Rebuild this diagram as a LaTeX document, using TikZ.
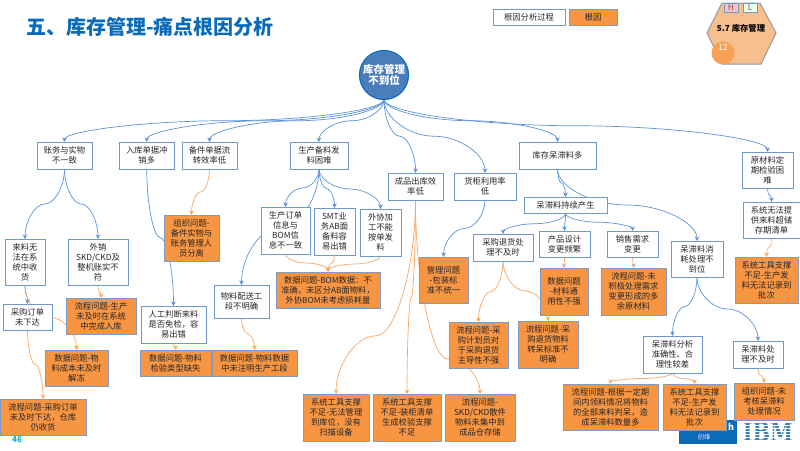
\documentclass[tikz,border=0pt]{standalone}
\usepackage{fontspec}
\setmainfont{Noto Sans CJK SC}
\newfontfamily\ibmfont{DejaVu Serif}
\usetikzlibrary{positioning,arrows.meta,calc,backgrounds}

\definecolor{linkblue}{HTML}{5B93D8}
\definecolor{linkorange}{HTML}{F9A662}
\definecolor{causefill}{HTML}{F79542}
\definecolor{causeline}{HTML}{7F9BC2}
\definecolor{boxline}{HTML}{7099CC}
\definecolor{titleblue}{HTML}{0B6BB8}
\definecolor{hexfill}{HTML}{F6BF8E}
\definecolor{rootfill}{HTML}{4A7EBB}
\definecolor{rootline}{HTML}{0F6FBF}
\definecolor{ibmblue}{HTML}{3F7FB0}
\definecolor{pagecyan}{HTML}{00B0F0}

\begin{document}
\begin{tikzpicture}[x=1pt, y=-1pt, >={Stealth[length=4.5pt,width=4.5pt]},
    every node/.style={font=\fontsize{8.3}{10}\selectfont, text=black!85, inner sep=0pt, outer sep=0pt}]
  % Styles
  \tikzset{
    dims/.style 2 args={minimum width=#1pt, minimum height=#2pt},
    proc/.style={draw=boxline, line width=.8pt, fill=white, align=center},
    cause/.style={draw=causeline, line width=.9pt, fill=causefill, align=center},
    elbow/.style={to path={
      let \p1=(\tikztostart), \p2=(\tikztotarget) in
      .. controls (\x1,{\y1+.5*#1*(\y2-\y1)}) and ({.75*\x1+.25*\x2},{\y1+#1*(\y2-\y1)})
      .. ({.5*\x1+.5*\x2},{\y1+#1*(\y2-\y1)})
      .. controls ({.25*\x1+.75*\x2},{\y1+#1*(\y2-\y1)}) and (\x2,{\y2-.5*(1-#1)*(\y2-\y1)})
      .. (\x2,\y2)}},
    elbow/.default=.5,
    bluelink/.style={->, draw=linkblue, line width=.7pt},
    orangelink/.style={->, draw=linkorange, line width=.7pt}
  }
  \useasboundingbox (0,0) rectangle (800,450);

  % Title, legend, page number
  \node[anchor=west, font=\fontsize{20}{24}\selectfont\bfseries, text=titleblue] (title) at (26,27) {五、库存管理-痛点根因分析};
  \node[proc, dims={72}{16.5}, anchor=north west] (legendproc) at (493,9) {根因分析过程};
  \node[cause, dims={48}{16.5}, right=4pt of legendproc] (legendcause) {根因};

  % Hexagon badge
  \draw[draw=gray!80, line width=1pt, fill=hexfill] (722,3) -- (760,3) -- (776,33) -- (761,64) -- (722,64) -- (707,33) -- cycle;
  \node[draw=boxline, line width=.8pt, fill=red!25, dims={14}{9}, text=black!60, anchor=north west] (tagh) at (724,3) {H};
  \node[draw=boxline, line width=.8pt, fill=green!8, dims={14}{9}, text=black!60, anchor=north west] (tagl) at (743,3) {L};
  \node[font=\fontsize{8.3}{10}\selectfont\bfseries, text=black] (hextext) at (741,28) {5.7 库存管理};
  \node[circle, fill=causefill!90!white, minimum size=23pt] (hexcirc) at (723,53) {};
  \node[text=white] (hexnum) at (723,47) {12};

  % Root
  \node[circle, draw=rootline, line width=1.2pt, fill=rootfill, minimum size=49pt, align=center,
        text=white, font=\fontsize{10.5}{11}\selectfont\bfseries] (root) at (384,75) {库存管理\\不到位};

  % First row
  \node[proc, dims={55}{27}, anchor=north west] (zw) at (37,142) {账务与实物\\不一致};
  \node[proc, dims={55.5}{27}, right=27pt of zw] (rk) {入库单据冲\\销多};
  \node[proc, dims={55}{27}, right=7.5pt of rk] (bj) {备件单据流\\转效率低};
  \node[proc, dims={58}{27}, right=53pt of bj] (sc) {生产备料发\\料困难};
  \node[proc, dims={77}{27}, right=171pt of sc] (kc) {库存呆滞料多};
  \node[proc, dims={51}{36}, anchor=north west] (yc) at (742,152) {原材料定\\期检验困\\难};
  \node[proc, dims={55}{27}, anchor=north west] (cp) at (388,173) {成品出库效\\率低};
  \node[proc, dims={62}{27}, right=11pt of cp] (hg) {货柜利用率\\低};

  % Left branch
  \node[proc, dims={40}{46}, anchor=north west] (ll) at (5,239) {来料无\\法在系\\统中收\\货};
  \node[proc, dims={60}{46}, anchor=north west] (wx) at (68,239) {外销\\SKD/CKD及\\整机账实不\\符};
  \node[proc, dims={49}{26}, anchor=north west] (cg) at (3,304) {采购订单\\未下达};
  \node[cause, dims={70}{36}, anchor=north west] (lcsc) at (66,298) {流程问题-生产\\未及时在系统\\中完成入库};
  \node[cause, dims={63}{36}, anchor=north west] (sjcb) at (45,350) {数据问题-物\\料成本未及时\\解冻};
  \node[cause, dims={86}{36.5}, anchor=north west] (lccg) at (0,399) {流程问题-采购订单\\未及时下达，仓库\\仍收货};
  \node[cause, dims={55}{46}, anchor=north west] (zz) at (164,215) {组织问题-\\备件实物与\\账务管理人\\员分离};
  \node[proc, dims={65}{37}, anchor=north west] (rg) at (141,306) {人工判断来料\\是否免检，容\\易出错};
  \node[cause, dims={71}{26}, anchor=north west] (sjjy) at (140,350) {数据问题-物料\\检验类型缺失};
  \node[cause, dims={85}{26}, right=1pt of sjjy] (sjgd) {数据问题-物料数据\\中未注明生产工段};
  \node[proc, dims={55}{33}, anchor=north west] (ps) at (214,285) {物料配送工\\段不明确};

  % Production branch
  \node[proc, dims={49}{47}, anchor=north west] (scdd) at (261,207) {生产订单\\信息与\\BOM信\\息不一致};
  \node[proc, dims={41}{47}, anchor=north west] (smt) at (314,208) {SMT业\\务AB面\\备料容\\易出错};
  \node[proc, dims={41}{47}, anchor=north west] (wxjg) at (360,209) {外协加\\工不能\\按单发\\料};
  \node[cause, dims={104}{36}, anchor=north west] (sjbom) at (276,272) {数据问题-BOM数据：不\\准确，未区分AB面物料，\\外协BOM未考虑损耗量};

  % Bottom row
  \node[cause, dims={66}{47}, anchor=north west] (gj1) at (303,394) {系统工具支撑\\不足-无法管理\\到库位，没有\\扫描设备};
  \node[cause, dims={68}{47}, right=4pt of gj1] (gj2) {系统工具支撑\\不足-装柜清单\\生成校验支撑\\不足};
  \node[cause, dims={70}{47}, right=4pt of gj2] (skd) {流程问题-\\SKD/CKD散件\\物料未集中到\\成品仓存储};
  \node[cause, dims={49}{46}, anchor=north west] (gl) at (419,257) {管理问题\\-包装标\\准不统一};

  % Slow-moving stock branch
  \node[proc, dims={83}{16.5}, anchor=north west] (dz) at (524,197) {呆滞料持续产生};
  \node[proc, dims={60}{27}, anchor=north west] (th) at (473,234) {采购退货处\\理不及时};
  \node[proc, dims={51}{26}, anchor=north west] (cpsj) at (539,231) {产品设计\\变更频繁};
  \node[proc, dims={51}{26}, right=17pt of cpsj] (xs) {销售需求\\变更};
  \node[proc, dims={52}{36}, anchor=north west] (xh) at (671,241) {呆滞料消\\耗处理不\\到位};
  \node[cause, dims={48}{47}, anchor=north west] (sjcl) at (540,268) {数据问题\\-材料通\\用性不强};
  \node[cause, dims={65}{47}, anchor=north west] (lcxq) at (601,268) {流程问题-未\\积极处理需求\\变更形成的多\\余原材料};
  \node[cause, dims={59}{46}, anchor=north west] (lcjh) at (449,322) {流程问题-采\\购计划员对\\于采购退货\\主导性不强};
  \node[cause, dims={60}{47}, anchor=north west] (lcth) at (518,321) {流程问题-采\\购退货物料\\转呆标准不\\明确};
  \node[proc, dims={59}{37}, anchor=north west] (fx) at (643,336) {呆滞料分析\\准确性、合\\理性较差};
  \node[proc, dims={50}{27}, anchor=north west] (cl) at (733,341) {呆滞料处\\理不及时};
  \node[cause, dims={95}{46}, anchor=north west] (lcgj) at (563,384) {流程问题-根据一定期\\间内领料情况将物料\\的全部来料判呆，造\\成呆滞料数量多};
  \node[cause, dims={63}{46}, right=5pt of lcgj] (gjfl) {系统工具支撑\\不足-生产发\\料无法记录到\\批次};
  \node[cause, dims={60}{37}, anchor=north west] (zzkh) at (734,383) {组织问题-未\\考核呆滞料\\处理情况};

  % Raw material branch
  \node[proc, dims={57}{36}, anchor=north west] (xtcc) at (743,202) {系统无法提\\供来料超储\\存期清单};
  \node[cause, dims={63}{46}, anchor=north west] (gjpc) at (735,257) {系统工具支撑\\不足-生产发\\料无法记录到\\批次};

  \node[font=\fontsize{8}{10}\selectfont\bfseries, text=pagecyan] (pageno) at (17,440) {46};

  \begin{scope}[on background layer]
    % Logos
    \node[fill=titleblue, dims={58}{24}, anchor=north west] (logobox) at (679,420) {};
    \node[text=white, font=\fontsize{9}{10}\selectfont\bfseries] (logoh) at (731,427) {h};
    \node[text=white!85!blue, font=\fontsize{6.5}{8}\selectfont] (logocn) at (704,437) {创维};
    \node[text=ibmblue, xscale=.8, transform shape, font=\fontsize{26}{26}\ibmfont\bfseries] (logoibm) at (768,432) {IBM};
    \foreach \y in {421.5,424.5,...,444}
      \fill[white] (738,\y) rectangle (798,\y+1.2);

    % Root links
    \foreach \kid in {zw,rk,bj,sc,cp,hg,kc,yc}
      \draw[bluelink] (root.south) to[elbow] (\kid.north);

    % Blue links
    \draw[bluelink] (zw.south) to[elbow] (ll.north);
    \draw[bluelink] (zw.south) to[elbow] (wx.north);
    \draw[bluelink] (rk.south) to[elbow] (rg.north);
    \draw[bluelink] (ll.south) to[elbow] (cg.north);
    \draw[bluelink] (sc.south) to[elbow] (scdd.north);
    \draw[bluelink] (sc.south) to[elbow] (smt.north);
    \draw[bluelink] (sc.south) to[elbow] (wxjg.north);
    \draw[bluelink] (sc.south) to[elbow] (ps.north);
    \draw[bluelink] (hg.south) to[elbow] (gl.north);
    \draw[bluelink] (kc.south) to[elbow] (dz.north);
    \draw[bluelink] (kc.south) to[elbow] (xh.north);
    \draw[bluelink] (dz.south) to[elbow] (th.north);
    \draw[bluelink] (dz.south) to[elbow] (cpsj.north);
    \draw[bluelink] (dz.south) to[elbow] (xs.north);
    \draw[bluelink] (xh.south) to[elbow] (fx.north);
    \draw[bluelink] (xh.south) to[elbow] (cl.north);
    \draw[bluelink] (yc.south) to[elbow] (xtcc.north);

    % Orange links
    \draw[orangelink] (bj.south) to[elbow] (zz.north);
    \draw[orangelink] (ll.south) to[elbow] (sjcb.north);
    \draw[orangelink] (wx.south) to[elbow] (lcsc.north);
    \draw[orangelink] (cg.south) to[elbow] (lccg.north);
    \draw[orangelink] (rg.south) to[elbow] (sjjy.north);
    \draw[orangelink] (ps.south) to[elbow] (sjgd.north);
    \draw[orangelink] (scdd.south) to[elbow] (sjbom.north);
    \draw[orangelink] (smt.south) to[elbow] (sjbom.north);
    \draw[orangelink] (wxjg.south) to[elbow] (sjbom.north);
    \draw[orangelink] (cp.south) to[elbow=.7] (gj1.north);
    \draw[orangelink] (cp.south) to[elbow] (gj2.north);
    \draw[orangelink] (cp.south) to[elbow=.82] (skd.north);
    \draw[orangelink] (th.south) to[elbow] (lcjh.north);
    \draw[orangelink] (th.south) to[elbow] (lcth.north);
    \draw[orangelink] (cpsj.south) to[elbow] (sjcl.north);
    \draw[orangelink] (xs.south) to[elbow] (lcxq.north);
    \draw[orangelink] (fx.south) to[elbow] (lcgj.north);
    \draw[orangelink] (fx.south) to[elbow] (gjfl.north);
    \draw[orangelink] (cl.south) to[elbow] (zzkh.north);
    \draw[orangelink] (xtcc.south) to[elbow] (gjpc.north);
  \end{scope}
\end{tikzpicture}
\end{document}
